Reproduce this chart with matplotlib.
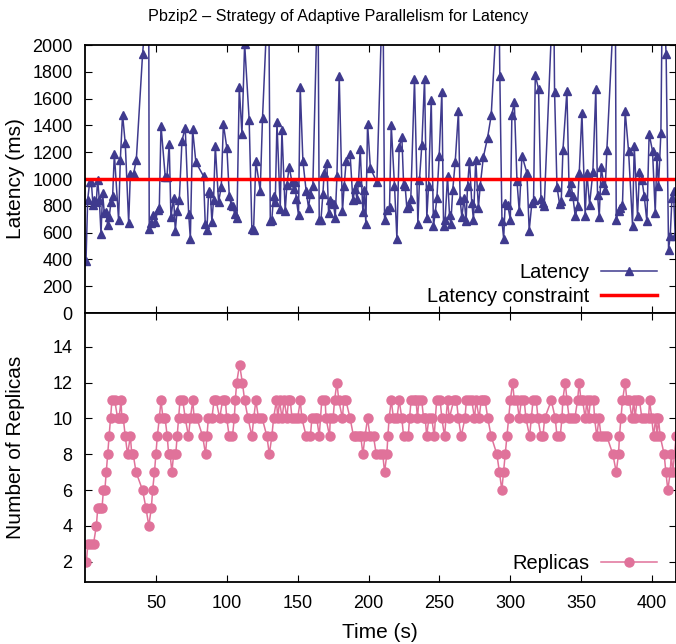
import numpy as np
import matplotlib
matplotlib.use("Agg")
import matplotlib.pyplot as plt

plt.rcParams['font.family'] = ['Liberation Sans', 'DejaVu Sans']

#* ---------------------------------------------------------------
#* Datos
#* ---------------------------------------------------------------
lat_t = [0.7, 1.9, 3.3, 4.5, 5.6, 6.6, 8, 8.9, 10.1, 11.3, 12.4, 13.6, 14.8, 16, 17.1, 18.3, 19.5, 20.7,
         23.7, 24.9, 26.5, 28.4, 30.8, 32, 34.3, 36.2, 40.6, 44.9, 45.3, 46.8, 47.9, 49.6, 51.2, 52.4,
         53.6, 56.6, 57.8, 59.4, 60.6, 62.5, 63.7, 64.9, 66.5, 68.4, 70.7, 73.1, 74.3, 75.9, 78.2, 83.6,
         84.8, 86, 87.2, 88.4, 89.5, 90.7, 91.9, 94.2, 96.1, 97.6, 100.1, 101.8, 103.2, 104.3, 105.5,
         107.2, 108.8, 110.7, 112.6, 115.8, 117.7, 118.9, 120.5, 123.6, 125.2, 129.5, 130.7, 131.8, 133,
         134.2, 135.4, 137.7, 138.9, 141.2, 142.4, 144, 146, 147.1, 148.3, 149, 150.6, 151.8, 153.7, 156,
         157.7, 158.9, 160.7, 164.3, 165.2, 166.4, 167.8, 168.7, 170.6, 171.8, 173, 174.1, 175.3, 176.5,
         177.7, 179.3, 181.6, 182.8, 184.2, 187, 188.9, 190.6, 191.8, 192.9, 194.1, 196, 197, 198.1,
         199.3, 201.3, 205.9, 210.1, 211.3, 212.9, 214.8, 216, 218.3, 220, 221.6, 223.5, 224.7, 225.8,
         227, 228.2, 229.8, 232.4, 234.8, 235.9, 237.6, 239.5, 241.1, 242.3, 244.2, 245.8, 247, 248.2,
         249.8, 251.7, 252.9, 254, 255.7, 257.1, 258, 259.4, 261.1, 263.4, 264.6, 265.8, 267.4, 268.8,
         269.8, 271.2, 272.8, 274, 275.6, 277.5, 278.7, 281, 283.9, 286.5, 291.8, 292.6, 294.1, 295.3,
         296.4, 298.1, 300, 301.1, 302.8, 304.7, 306.3, 308.2, 311.7, 313.3, 315.2, 316.4, 317.6, 319.9,
         321.6, 322.7, 323.9, 330.5, 331.2, 332.9, 334.7, 335.9, 337.1, 339.9, 341.5, 342.7, 344.1,
         345.8, 347.4, 348.6, 350.5, 352.8, 354, 355.9, 358.2, 360.3, 361.5, 362.7, 364.1, 365.7, 366.9,
         368.1, 374, 374.7, 376.3, 377.5, 379.1, 381, 383.4, 386.2, 387.4, 389.7, 391.1, 392.8, 394.4,
         396.3, 397.9, 400.3, 402.2, 403.4, 404.5, 406.2, 407.3, 409.9, 411.6, 412.8, 414, 415.1, 416.3]
lat_ms = [386, 847, 976, 976, 809, 847, 829, 996, 847, 590, 896, 747, 752, 657, 717, 827, 876, 1188,
          692, 1140, 1481, 1265, 672, 1041, 1041, 1145, 1930, 2500, 630, 672, 735, 677, 767, 784,
          1399, 1016, 1016, 1262, 717, 859, 615, 759, 841, 1287, 1382, 742, 555, 1370, 1125, 1021,
          667, 618, 909, 896, 682, 847, 1250, 829, 939, 1410, 1228, 871, 804, 797, 742,
          710, 1688, 1335, 2010, 1439, 627, 618, 1133, 914, 1454, 2500, 685, 697, 876,
          829, 1424, 777, 1365, 759, 954, 1091, 976, 926, 976, 852, 730, 1686, 1133, 909,
          784, 891, 946, 2500, 697, 692, 889, 1046, 1120, 747, 841, 822, 814, 710,
          1021, 1768, 759, 951, 1133, 1183, 847, 926, 852, 976, 1225, 754, 921, 665,
          1414, 1080, 976, 2500, 697, 767, 792, 1402, 951, 555, 1240, 1312, 966, 946,
          784, 797, 852, 1743, 665, 991, 1257, 1748, 710, 946, 1586, 647, 747, 859,
          1170, 1651, 647, 697, 1021, 734, 665, 921, 1125, 1506, 847, 715, 859, 685,
          946, 1138, 822, 697, 1145, 784, 946, 1165, 1305, 1474, 2500, 1768, 685, 555,
          822, 809, 697, 1481, 1574, 983, 759, 1175, 1046, 615, 822, 847, 1775, 1673,
          852, 822, 797, 2500, 1651, 941, 817, 834, 1215, 1656, 901, 971, 871,
          722, 797, 1046, 1494, 722, 1046, 809, 1051, 1668, 884, 717, 1088, 971, 921,
          1220, 2500, 697, 764, 784, 809, 1506, 1208, 652, 1245, 722, 1051, 996, 876,
          685, 1337, 1208, 747, 1170, 946, 1345, 2500, 1930, 473, 578, 859, 909, 573]

rep_t = [1, 2, 4, 6, 8, 9, 10.5, 12, 13, 14, 15, 16, 17, 18, 19, 21, 23, 24, 25.4, 26, 27, 28.4, 30,
         32, 33, 34, 36, 40.6, 43, 45, 46.8, 47.7, 49, 50, 51, 52.4, 53.6, 55, 56.5, 58, 59, 60, 61.3,
         62.5, 64, 65, 66, 67, 69, 70.7, 73, 74.3, 76, 77, 79, 83, 85, 86, 87, 89.5, 91, 92.5, 95, 97,
         99, 100, 101.7, 104, 105.3, 106, 107, 109, 111, 112.6, 115, 117.7, 119, 120.5, 122.4, 125,
         128.3, 130, 131.8, 133, 135, 136, 137.2, 139, 140.5, 142.4, 143.5, 144.8, 146, 148, 150, 151.8,
         153, 156, 159, 160, 162, 163.5, 165.2, 167, 169.4, 170, 172.5, 173, 175, 176, 177.7, 179,
         181.6, 182.5, 184, 187, 189.4, 191, 193, 194.5, 196, 197.5, 199.3, 201, 203.5, 205.4, 208, 210,
         211.3, 212.9, 213.6, 214.5, 216, 217.6, 220, 221.6, 223.5, 224.7, 228, 228.9, 230, 232, 233.5,
         234.5, 235.5, 237.5, 238.8, 240, 241, 242.5, 244.6, 246.3, 248, 250.5, 251.7, 253.6, 255.7,
         257, 260, 262, 263.4, 265.3, 268, 269, 271, 272.8, 274.7, 275.9, 278, 279.4, 281, 282.2, 284.1,
         286.5, 290.5, 292.3, 294, 295.2, 296.4, 297.6, 298.8, 300, 301.6, 302.8, 304.7, 306.3, 307.7,
         309.8, 311, 313.6, 314.8, 316, 318.3, 319.5, 321.6, 323, 324.2, 328.9, 331.7, 332.9, 335.2,
         336.4, 337, 338.7, 340, 341.5, 343.5, 345.5, 347.4, 348.6, 349.8, 351, 352.8, 354, 355.2,
         356.5, 358.7, 359.4, 361, 362.5, 364, 366, 368.1, 372.3, 374.7, 376.3, 377, 378, 379.1, 381,
         382.2, 384, 385.7, 387, 388, 389.3, 391.1, 392.8, 395, 397.5, 398.2, 399.8, 401, 402.5, 403.5,
         404.5, 405.7, 408.5, 409.7, 411.1, 412.8, 413.5, 414.6, 417]
replicas = [2, 3, 3, 3, 4, 5, 5, 5, 6, 6, 7, 8, 9, 10, 11, 11, 10, 10, 11, 10, 10, 9, 8,
            9, 8, 8, 7, 6, 5, 4, 5, 6, 7, 8, 9, 10, 11, 10, 10, 9, 8, 8, 7,
            8, 8, 9, 10, 11, 11, 10, 9, 10, 11, 10, 10, 9, 8, 9, 10, 10, 11, 11, 10, 11,
            11, 10, 9, 9, 10, 11, 12, 13, 12, 11, 10, 9, 10, 11, 10, 10,
            9, 8, 9, 10, 11, 10, 11, 10, 11, 10, 11, 11, 10, 10, 10, 11,
            10, 9, 9, 10, 10, 10, 9, 11, 11, 10, 9, 10, 10, 11, 12, 11,
            10, 11, 11, 10, 9, 9, 9, 9, 8, 9, 10, 9, 9, 8, 8, 8,
            7, 8, 9, 10, 11, 10, 10, 11, 10, 9, 9, 10, 11, 11, 11,
            10, 11, 11, 10, 10, 9, 10, 10, 9, 11, 11, 10, 9, 11,
            10, 11, 11, 10, 9, 10, 11, 11, 11, 10, 11, 10, 11, 11, 11, 10,
            9, 8, 7, 6, 7, 8, 9, 10, 11, 12, 11, 11, 10, 11,
            11, 10, 9, 10, 11, 11, 10, 9, 9, 10, 11, 10, 9, 9,
            10, 11, 12, 11, 10, 10, 10, 11, 12, 11, 11, 10, 11, 10,
            11, 11, 10, 9, 10, 9, 9, 9, 8, 7, 8, 9, 10, 11, 12,
            11, 11, 10, 11, 10, 11, 11, 10, 10, 10, 11, 10, 9, 10, 9,
            10, 9, 8, 7, 6, 7, 8, 7, 9]

constraint = 1000

#* ---------------------------------------------------------------
#* Figura
#* ---------------------------------------------------------------
fig = plt.figure(figsize=(6.76, 6.44), dpi=100)
ax1 = fig.add_axes([85/676, 331/644, 590.5/676, 268/644])
ax2 = fig.add_axes([85/676, 62/644, 590.5/676, 269/644])

blue = '#3f3a8e'
pink = '#e0729a'

ax1.plot(lat_t, lat_ms, color=blue, lw=1.1, marker='^', ms=5.5, label='Latency')
ax1.axhline(constraint, color='#ff0000', lw=2.5, label='Latency constraint')
ax1.set_xlim(0, 416.5)
ax1.set_ylim(0, 2000)
ax1.set_yticks(np.arange(0, 2001, 200))
ax1.set_xticks(np.arange(50, 401, 50))
ax1.set_xticklabels([])
ax1.set_ylabel('Latency (ms)', fontsize=15)
ax1.yaxis.set_label_coords(-0.102, 0.5)
fig.text(0.5, 1 - 17/644, 'Pbzip2 – Strategy of Adaptive Parallelism for Latency',
         fontsize=11.6, ha='center', va='center')
ax1.legend(loc='lower right', bbox_to_anchor=(0.9687, 0.026), frameon=False, markerfirst=False,
           fontsize=14.4, handlelength=2.8, borderaxespad=0, borderpad=0,
           labelspacing=0.25, handletextpad=0.6)

ax2.plot(rep_t, replicas, color=pink, lw=1.1, marker='o', ms=6.5, label='Replicas')
ax2.set_xlim(0, 416.5)
ax2.set_ylim(0.87, 15.88)
ax2.set_yticks(np.arange(2, 15, 2))
ax2.set_xticks(np.arange(50, 401, 50))
ax2.set_xlabel('Time (s)', fontsize=15, labelpad=8)
ax2.set_ylabel('Number of Replicas', fontsize=15)
ax2.yaxis.set_label_coords(-0.102, 0.5)
ax2.legend(loc='lower right', bbox_to_anchor=(0.9687, 0.033), frameon=False, markerfirst=False,
           fontsize=14.4, handlelength=2.8, borderaxespad=0, borderpad=0, handletextpad=0.6)

for ax in (ax1, ax2):
    ax.tick_params(direction='in', top=True, right=True, labelsize=13, length=5, width=0.8, pad=9)
    for s in ax.spines.values():
        s.set_linewidth(1.3)

fig.savefig('out.png', dpi=100)
